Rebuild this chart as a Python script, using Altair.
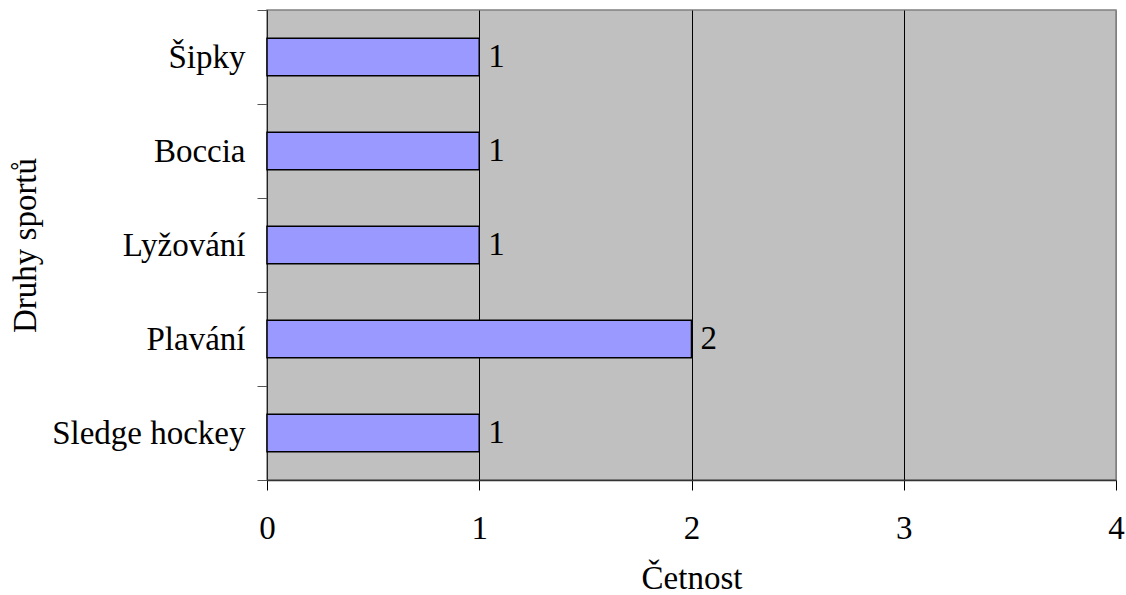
import altair as alt
import pandas as pd

# Sports (top to bottom) and their counts
sports = ["Šipky", "Boccia", "Lyžování", "Plavání", "Sledge hockey"]
counts = [1, 1, 1, 2, 1]
x_ticks = [0, 1, 2, 3, 4]

df = pd.DataFrame({"sport": sports, "count": counts})

FONT = "Liberation Serif"
FS = 33

y_enc = alt.Y(
    "sport:N",
    sort=sports,
    scale=alt.Scale(paddingInner=0, paddingOuter=0),
    axis=alt.Axis(
        title="Druhy sportů",
        titleFont=FONT,
        titleFontSize=FS,
        titleFontWeight="normal",
        titleColor="black",
        titleAngle=-90,
        titleX=-232,
        titleY=235,
        titleAlign="center",
        titleBaseline="alphabetic",
        labelFont=FONT,
        labelFontSize=FS,
        labelColor="black",
        labelPadding=12,
        labelLimit=400,
        tickBand="extent",
        tickSize=10,
        tickColor="#555555",
        domainColor="#222222",
        domainWidth=1,
        grid=False,
    ),
)

x_enc = alt.X(
    "count:Q",
    scale=alt.Scale(domain=[0, 4], nice=False),
    axis=alt.Axis(
        values=x_ticks,
        format="d",
        title="Četnost",
        titleFont=FONT,
        titleFontSize=FS,
        titleFontWeight="normal",
        titleColor="black",
        titleX=424.5,
        titleY=108,
        titleAlign="center",
        titleBaseline="alphabetic",
        labelFont=FONT,
        labelFontSize=FS,
        labelColor="black",
        labelBaseline="alphabetic",
        labelPadding=48,
        labelFlush=False,
        tickSize=10,
        tickColor="black",
        domainColor="#333333",
        domainWidth=1.5,
        grid=True,
        gridColor={"condition": {"test": "datum.value == 4", "value": "#808080"}, "value": "black"},
        gridWidth=1,
    ),
)

# Bars fill 40% of each category band
bars = alt.Chart(df).mark_bar(
    color="#9999FF", stroke="black", strokeWidth=1.5,
    height=alt.RelativeBandSize(band=0.4),
).encode(x=x_enc, y=y_enc)

labels = alt.Chart(df).mark_text(
    align="left", baseline="middle", dx=9, font=FONT, fontSize=FS, color="black"
).encode(x="count:Q", y=alt.Y("sport:N", sort=sports), text="count:Q")

chart = (
    alt.layer(bars, labels)
    .properties(
        width=849,
        height=470,
        autosize=alt.AutoSizeParams(type="none"),
        padding={"left": 267, "top": 10, "right": 10, "bottom": 115},
    )
    .configure(background="white")
    .configure_view(fill="#C0C0C0", stroke="#808080", strokeWidth=1.5)
)

chart.save("out.html", embed_options={"renderer": "svg", "actions": False})
